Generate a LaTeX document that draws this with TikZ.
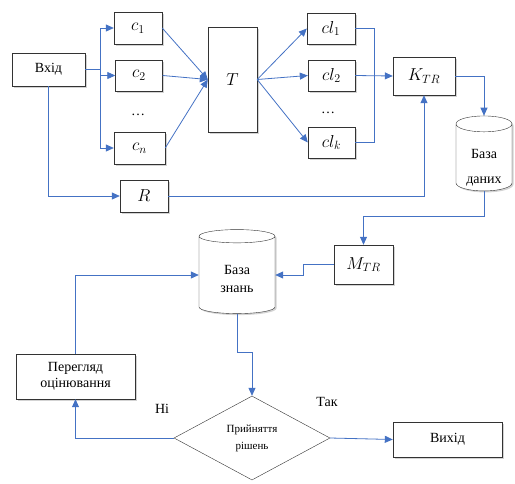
\documentclass[tikz,border=0pt]{standalone}
\usepackage{fontspec}
\setmainfont{Liberation Serif}
\usepackage{tikz}
\usetikzlibrary{calc}
\usetikzlibrary{shapes.geometric}
\usetikzlibrary{arrows.meta}
\usetikzlibrary{shadows}
\definecolor{lineblue}{RGB}{68,114,196}
\tikzset{
  blk/.style={draw=black!80, fill=white, inner sep=1pt, align=center,
    font=\fontsize{14}{16}\selectfont,
    drop shadow={shadow xshift=1.5pt, shadow yshift=-1.5pt, opacity=0.35}},
  mth/.style={font=\fontsize{17}{19}\selectfont},
  base/.style={cylinder, shape border rotate=90, draw=black!80, fill=white,
    inner sep=0pt,
    drop shadow={shadow xshift=1.5pt, shadow yshift=-1.5pt, opacity=0.35}},
  arr/.style={draw=lineblue, thick, -{Triangle[length=8pt,width=7pt]}},
  ln/.style={draw=lineblue, thick}
}
\newcommand{\blok}[6]{ \node[blk, minimum width=#4, minimum height=#5] (#1) at ( #2 , #3 ) {#6};}
\newcommand{\mblok}[6]{ \node[blk, mth, minimum width=#4, minimum height=#5] (#1) at ( #2 , #3 ) {#6};}
% text of a cylinder, lowered below the top ellipse
\newcommand{\lowtext}[3]{\raisebox{-#1}[#2][#2]{\begin{tabular}{@{}c@{}}#3\end{tabular}}}

\begin{document}
\begin{tikzpicture}[x=1pt,y=-1pt]
        \useasboundingbox (0,0) rectangle (515,483);
        % top row
        \blok{vhid}{48.5}{69.5}{73pt}{33pt}{Вхід}
        \mblok{c1}{138}{28}{48pt}{32pt}{$c_1$}
        \mblok{c2}{139}{75.5}{47pt}{31pt}{$c_2$}
        \mblok{cn}{139.5}{148}{51pt}{32pt}{$c_n$}
        \mblok{T}{232.5}{79.5}{49pt}{105pt}{$T$}
        \mblok{R}{144}{196}{48pt}{32pt}{$R$}
        \mblok{cl1}{331}{28.5}{48pt}{31pt}{$cl_1$}
        \mblok{cl2}{331.5}{75.5}{47pt}{31pt}{$cl_2$}
        \mblok{clk}{331.5}{142.5}{47pt}{31pt}{$cl_k$}
        \mblok{K}{424}{76}{62pt}{38pt}{$K_{TR}$}
        \node[font=\fontsize{14}{16}\selectfont] (dots1) at (138,115) {\dots};
        \node[font=\fontsize{14}{16}\selectfont] (dots2) at (328,113) {\dots};
        \node[base, minimum width=56pt, minimum height=75pt, shape aspect=0.45,
          font=\fontsize{14}{25}\selectfont] (db1) at (484,157.5) {\lowtext{12pt}{20pt}{База\\даних}};

        % bottom part
        \mblok{M}{363.5}{264.5}{59pt}{39pt}{$M_{TR}$}
        \node[base, minimum width=76pt, minimum height=84pt, shape aspect=0.4,
          font=\fontsize{14}{18}\selectfont] (db2) at (237,275) {\lowtext{8pt}{18pt}{База\\знань}};
        \blok{review}{75.5}{376.5}{119pt}{45pt}{Перегляд\\оцінювання}
        \node[diamond, draw=black!80, fill=white, minimum width=156pt, minimum height=84pt, inner sep=0pt,
          align=center, font=\fontsize{11}{17}\selectfont] (dec) at (252,438) {Прийняття\\рішень};
        \blok{out}{447.5}{439.5}{109pt}{35pt}{Вихід}
        \node[font=\fontsize{14}{16}\selectfont] (no) at (162,409) {Ні};
        \node[font=\fontsize{14}{16}\selectfont] (yes) at (327,402) {Так};

        % connectors
        \coordinate (br) at (100,69.5);
        \coordinate (jn) at (374,76);
        \draw[ln] (vhid.east) -- (br);
        \draw[arr] (br) |- (c1.west);
        \draw[arr] (br) |- (c2.west);
        \draw[arr] (br) |- (cn.west);
        \draw[arr] (vhid.south) |- (R.west);
        \draw[arr] (c1.east) -- (T.west);
        \draw[arr] (c2.east) -- (T.west);
        \draw[arr] (cn.east) -- (T.west);
        \draw[arr] (T.east) -- (cl1.west);
        \draw[arr] (T.east) -- (cl2.west);
        \draw[arr] (T.east) -- (clk.west);
        \draw[ln] (cl1.east) -| (jn);
        \draw[ln] (clk.east) -| (jn);
        \draw[arr] (cl2.east) -- (K.west);
        \draw[arr] (K.east) -| (db1.north);
        \draw[arr] (R.east) -| (K.south);
        \draw[arr] (db1.south) -- ++(0,25) -| (M.north);
        \draw[arr] (M.west) -- ++(-30,0) |- (db2.east);
        \draw[arr] (review.north) |- (db2.west);
        \draw[arr] (db2.south) -- ++(0,39) -| (dec.north);
        \draw[arr] (dec.west) -| (review.south);
        \draw[arr] (dec.east) -- (out.west);
\end{tikzpicture}
\end{document}
